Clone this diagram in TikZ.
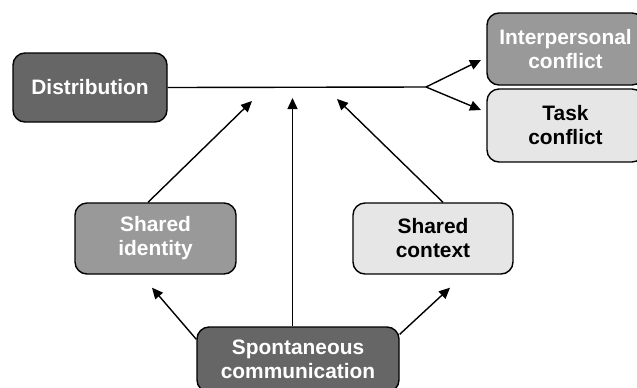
\documentclass[tikz,border=0pt]{standalone}
\usepackage{fontspec}
\setmainfont{Liberation Sans}
\usetikzlibrary{arrows.meta}
\definecolor{darkbox}{HTML}{666666}
\definecolor{midbox}{HTML}{999999}
\definecolor{lightbox}{HTML}{E6E6E6}
\begin{document}
\begin{tikzpicture}[x=0.5pt,y=-0.5pt,
 box/.style={draw=black, line width=0.7pt, rounded corners=6pt, align=center,
   font=\fontsize{10.45}{12}\selectfont\bfseries, inner sep=0pt},
 dark/.style={box, fill=darkbox, text=white},
 mid/.style={box, fill=midbox, text=white},
 light/.style={box, fill=lightbox, text=black},
 conn/.style={line width=0.7pt},
 arr/.style={conn, -{Triangle[length=5.5pt,width=5pt]}}]
\useasboundingbox (0,0) rectangle (637,387);
\clip (0,0) rectangle (637,387);
\node[dark, minimum width=77pt, minimum height=34.5pt] (dist) at (90,87.5) {Distribution};
\node[mid, minimum width=78.5pt, minimum height=36pt] (inter) at (565.5,49) {Interpersonal\\conflict};
\node[light, minimum width=78.5pt, minimum height=36.5pt] (task) at (565.5,125.5) {Task\\conflict};
\node[mid, minimum width=80.5pt, minimum height=35.5pt] (sid) at (155.5,238.5) {Shared\\identity};
\node[light, minimum width=80pt, minimum height=35.5pt] (sctx) at (433,238.5) {Shared\\context};
\node[dark, minimum width=101pt, minimum height=32.5pt] (spont) at (298,359.5) {Spontaneous\\communication};
\coordinate (split) at (426,87);
\coordinate (t1) at (481,60);
\coordinate (t2) at (481,110);
\coordinate (a1) at (252,101);
\coordinate (a2) at (292.5,98);
\coordinate (a3) at (337,99);
\draw[conn] (dist.east) -- (split);
\draw[arr] (split) -- (t1);
\draw[arr] (split) -- (t2);
\draw[arr] ([xshift=-3.75pt]sid.north) -- (a1);
\draw[arr] ([xshift=-2.75pt]spont.north) -- (a2);
\draw[arr] ([xshift=5pt]sctx.north) -- (a3);
\draw[arr] ([yshift=-6.5pt]spont.north west) -- ([xshift=-1.75pt,yshift=-6.5pt]sid.south);
\draw[arr] ([yshift=-4pt]spont.north east) -- ([xshift=8.5pt,yshift=-6.5pt]sctx.south);
\end{tikzpicture}
\end{document}
